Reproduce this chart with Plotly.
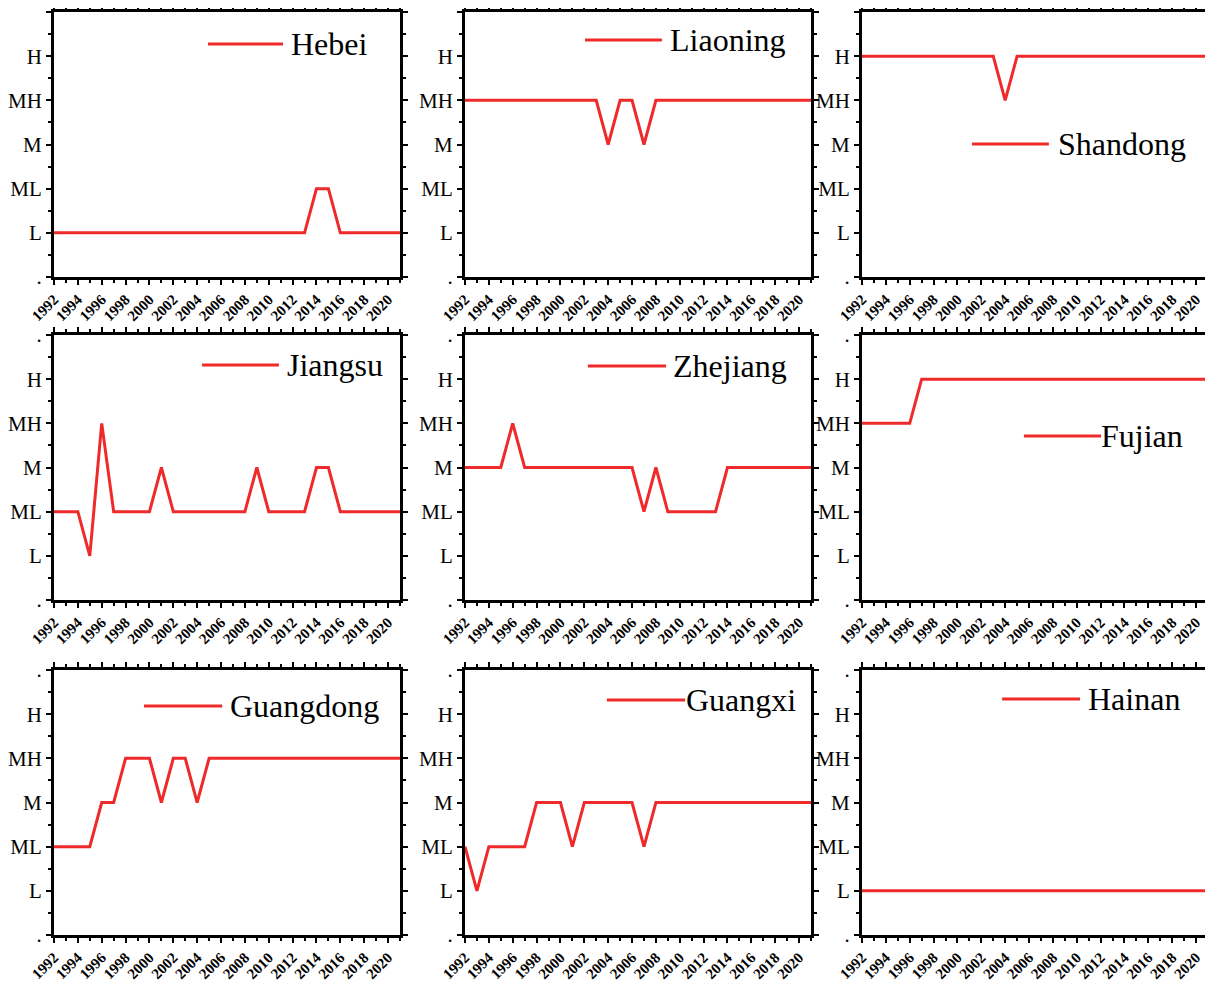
import plotly.graph_objects as go

years = list(range(1992, 2022))
level_vals = [0, 1, 2, 3, 4, 5, 6]
level_text = [".", "L", "ML", "M", "MH", "H", "."]
year_ticks = list(range(1992, 2021, 2))

def expand(runs):
    out = []
    for v, n in runs:
        out += [v] * n
    return out

# levels: L=1, ML=2, M=3, MH=4, H=5 ; values for 1992..2021
hebei = expand([(1, 22), (2, 2), (1, 6)])
liaoning = expand([(4, 12), (3, 1), (4, 2), (3, 1), (4, 14)])
shandong = expand([(5, 12), (4, 1), (5, 17)])
jiangsu = expand([(2, 3), (1, 1), (4, 1), (2, 4), (3, 1), (2, 7), (3, 1), (2, 4), (3, 2), (2, 6)])
zhejiang = expand([(3, 4), (4, 1), (3, 10), (2, 1), (3, 1), (2, 5), (3, 8)])
fujian = expand([(4, 5), (5, 25)])
guangdong = expand([(2, 4), (3, 2), (4, 3), (3, 1), (4, 2), (3, 1), (4, 17)])
guangxi = expand([(2, 1), (1, 1), (2, 4), (3, 3), (2, 1), (3, 5), (2, 1), (3, 14)])
hainan = expand([(1, 30)])

provinces = ["Hebei", "Liaoning", "Shandong", "Jiangsu", "Zhejiang", "Fujian",
             "Guangdong", "Guangxi", "Hainan"]
series = [hebei, liaoning, shandong, jiangsu, zhejiang, fujian, guangdong, guangxi, hainan]

# legend placement in axis-domain fractions: (line x0, line x1, text x, y)
legend_pos = [
    (0.445, 0.662, 0.680, 0.879),
    (0.347, 0.569, 0.587, 0.894),
    (0.318, 0.540, 0.560, 0.502),
    (0.428, 0.650, 0.668, 0.887),
    (0.355, 0.581, 0.596, 0.883),
    (0.468, 0.691, 0.686, 0.619),
    (0.260, 0.486, 0.504, 0.864),
    (0.410, 0.636, 0.632, 0.887),
    (0.405, 0.630, 0.648, 0.891),
]

W, H = 1213, 981
OFF = 8  # page body margin
col_px = [(54, 400), (465, 811), (862, 1208)]
row_px = [(12, 277), (335, 600), (670, 935)]
RED = "#ee2a2a"
FONT = "Liberation Serif"

fig = go.Figure()
shapes = []
annotations = []
layout = {}
for i, (name, vals) in enumerate(zip(provinces, series)):
    r, c = divmod(i, 3)
    k = "" if i == 0 else str(i + 1)
    fig.add_trace(go.Scatter(x=years, y=vals, mode="lines", name=name,
                             line=dict(color=RED, width=3),
                             xaxis="x" + k, yaxis="y" + k, showlegend=False))
    x0, x1 = [p - OFF for p in col_px[c]]
    y0, y1 = [p - OFF for p in row_px[r]]
    common = dict(showline=True, linecolor="black", linewidth=3, mirror="ticks",
                  ticks="outside", ticklen=5, tickwidth=2, tickcolor="black",
                  showgrid=False, zeroline=False, automargin=False)
    layout["xaxis" + k] = dict(
        domain=[x0 / W, x1 / W], anchor="y" + k, range=[1992, 2021],
        tickmode="array", tickvals=year_ticks, ticktext=[str(t) for t in year_ticks],
        tickangle=-45, tickfont=dict(family=FONT, size=15, color="black", weight="bold"),
        minor=dict(dtick=1, tick0=1992, ticks="outside", ticklen=3, tickwidth=2, tickcolor="black"),
        **common)
    layout["yaxis" + k] = dict(
        domain=[1 - y1 / H, 1 - y0 / H], anchor="x" + k, range=[0, 6],
        tickmode="array", tickvals=level_vals, ticktext=level_text,
        tickfont=dict(family=FONT, size=21, color="black"),
        minor=dict(dtick=0.5, tick0=0, ticks="outside", ticklen=3, tickwidth=2, tickcolor="black"),
        **common)
    lx0, lx1, tx, ly = legend_pos[i]
    shapes.append(dict(type="line", xref="x%s domain" % k, yref="y%s domain" % k,
                       x0=lx0, x1=lx1, y0=ly, y1=ly, line=dict(color=RED, width=3)))
    annotations.append(dict(text=name, xref="x%s domain" % k, yref="y%s domain" % k,
                            x=tx, y=ly, xanchor="left", yanchor="middle", showarrow=False,
                            font=dict(family=FONT, size=32, color="black")))

fig.update_layout(width=W, height=H, margin=dict(l=0, r=0, t=0, b=0),
                  paper_bgcolor="white", plot_bgcolor="white",
                  shapes=shapes, annotations=annotations, **layout)
fig.write_html("out.html")
